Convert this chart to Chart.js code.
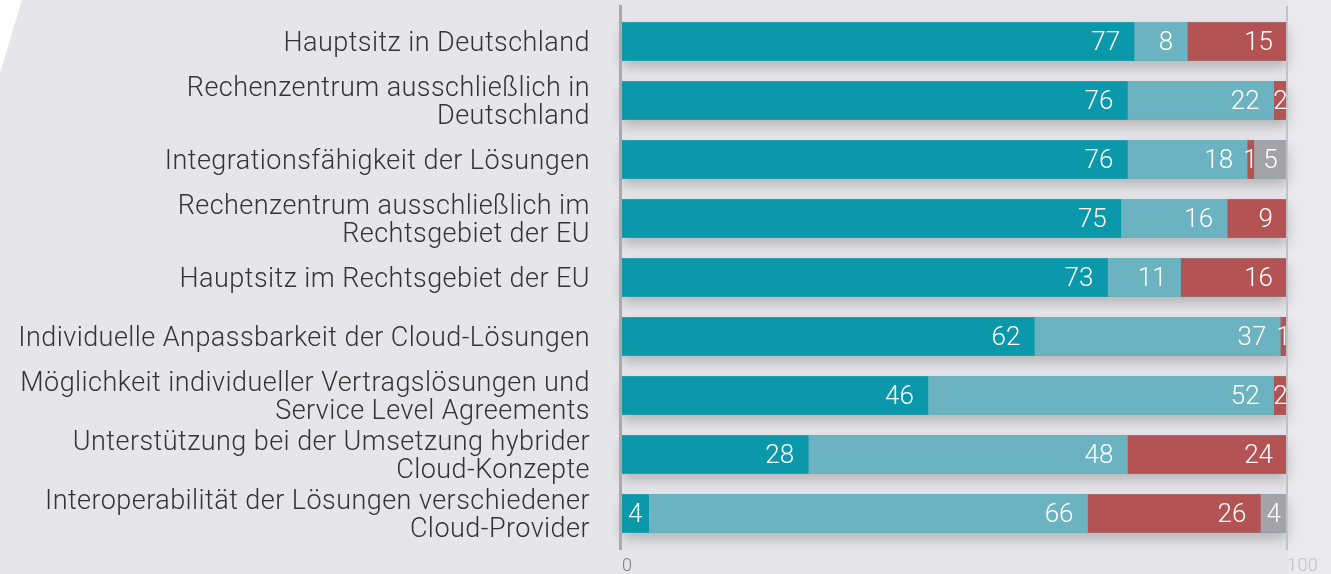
<!DOCTYPE html>
<html lang="de">
<head>
  <meta charset="UTF-8">
  <title>Cloud-Anbieter Kriterien</title>
  <script src="https://cdn.jsdelivr.net/npm/chart.js@4"></script>
  <style>
    * { margin: 0; padding: 0; box-sizing: border-box; }
    body { background: #e6e6ea; width: 1331px; height: 574px; overflow: hidden; position: relative; }
    .corner { position: absolute; left: 0; top: 0; width: 22px; height: 73px; background: #fff; clip-path: polygon(0 0, 100% 0, 0 100%); }
    .wrap { position: absolute; left: 0; top: 0; width: 1331px; height: 574px; }
  </style>
</head>
<body>
  <div class="corner"></div>
  <div class="wrap"><canvas id="chart" width="1331" height="574"></canvas></div>

  <script>
    const categories = [
      'Hauptsitz in Deutschland',
      ['Rechenzentrum ausschließlich in', 'Deutschland'],
      'Integrationsfähigkeit der Lösungen',
      ['Rechenzentrum ausschließlich im', 'Rechtsgebiet der EU'],
      'Hauptsitz im Rechtsgebiet der EU',
      'Individuelle Anpassbarkeit der Cloud-Lösungen',
      ['Möglichkeit individueller Vertragslösungen und', 'Service Level Agreements'],
      ['Unterstützung bei der Umsetzung hybrider', 'Cloud-Konzepte'],
      ['Interoperabilität der Lösungen verschiedener', 'Cloud-Provider']
    ];

    const sehrWichtig   = [77, 76, 76, 75, 73, 62, 46, 28, 4];
    const wichtig       = [8, 22, 18, 16, 11, 37, 52, 48, 66];
    const wenigerWichtig = [15, 2, 1, 9, 16, 1, 2, 24, 26];
    const weissNicht    = [0, 0, 5, 0, 0, 0, 0, 0, 4];

    const xTicks = [0, 100];

    const dark = '#0b98ab', light = '#6cb3c2', red = '#b35353', grey = '#a3a3a8';
    const fontFam = "Roboto, 'Liberation Sans', sans-serif";

    // shadow under each bar, axis lines at 0 and 100, value labels
    const decor = {
      id: 'decor',
      beforeDraw(chart) {
        chart.ctx.letterSpacing = '0.45px';
      },
      beforeDatasetsDraw(chart) {
        const { ctx, scales: { x } } = chart;
        const x0 = x.getPixelForValue(0), x1 = x.getPixelForValue(100);
        ctx.save();
        ctx.fillStyle = 'rgba(236,236,240,0.6)';
        ctx.fillRect(x1 + 1, 0, chart.width - x1, chart.height);
        chart.getDatasetMeta(0).data.forEach(bar => {
          ctx.save();
          ctx.shadowColor = 'rgba(0,0,0,0.22)';
          ctx.shadowBlur = 12;
          ctx.shadowOffsetY = 6;
          ctx.fillStyle = dark;
          ctx.fillRect(x0, bar.y - bar.height / 2, x1 - x0, bar.height);
          ctx.restore();
        });
        ctx.restore();
      },
      afterDatasetsDraw(chart) {
        const { ctx, scales: { x } } = chart;
        const x0 = x.getPixelForValue(0), x1 = x.getPixelForValue(100);
        ctx.save();
        ctx.fillStyle = '#a9a9ae';
        ctx.fillRect(x0 - 3, 5, 3, 545);
        ctx.fillStyle = '#c2c2c6';
        ctx.fillRect(x1 - 1, 6, 2, 544);
        // value labels
        ctx.fillStyle = '#fff';
        ctx.letterSpacing = '0px';
        ctx.font = '300 26px ' + fontFam;
        ctx.textBaseline = 'middle';
        chart.data.datasets.forEach((ds, i) => {
          chart.getDatasetMeta(i).data.forEach((bar, j) => {
            const v = ds.data[j];
            if (!v) return;
            const w = bar.x - bar.base;
            if (w >= 40) {
              ctx.textAlign = 'right';
              ctx.fillText(String(v), bar.x - 14, bar.y + 2);
            } else {
              ctx.textAlign = 'center';
              ctx.fillText(String(v), (bar.x + bar.base) / 2, bar.y + 2);
            }
          });
        });
        ctx.restore();
      }
    };

    new Chart(document.getElementById('chart'), {
      type: 'bar',
      data: {
        labels: categories,
        datasets: [
          { label: 'sehr wichtig', data: sehrWichtig, backgroundColor: dark },
          { label: 'wichtig', data: wichtig, backgroundColor: light },
          { label: 'weniger wichtig', data: wenigerWichtig, backgroundColor: red },
          { label: 'weiß nicht', data: weissNicht, backgroundColor: grey }
        ]
      },
      options: {
        indexAxis: 'y',
        responsive: false,
        animation: false,
        devicePixelRatio: 1,
        layout: { padding: { top: 12, right: 44, left: 0, bottom: 0 } },
        datasets: { bar: { barThickness: 38, borderWidth: 0 } },
        plugins: { legend: { display: false }, tooltip: { enabled: false } },
        scales: {
          x: {
            stacked: true, min: 0, max: 100,
            afterBuildTicks: s => { s.ticks = xTicks.map(v => ({ value: v })); },
            grid: { display: false },
            border: { display: false },
            ticks: { align: 'start', padding: 5, color: '#7e7e83', font: { family: fontFam, size: 18, weight: 300 } },
            afterFit: s => { s.height = 31; s.paddingLeft = 0; s.paddingRight = 0; }
          },
          y: {
            stacked: true,
            grid: { display: false },
            border: { display: false },
            ticks: { autoSkip: false, padding: 24, labelOffset: 3, color: '#333', font: { family: fontFam, size: 27, weight: 300, lineHeight: 1.04 } },
            afterFit: s => { s.width = 622; s.paddingTop = 0; s.paddingBottom = 0; }
          }
        }
      },
      plugins: [decor]
    });
  </script>
</body>
</html>
